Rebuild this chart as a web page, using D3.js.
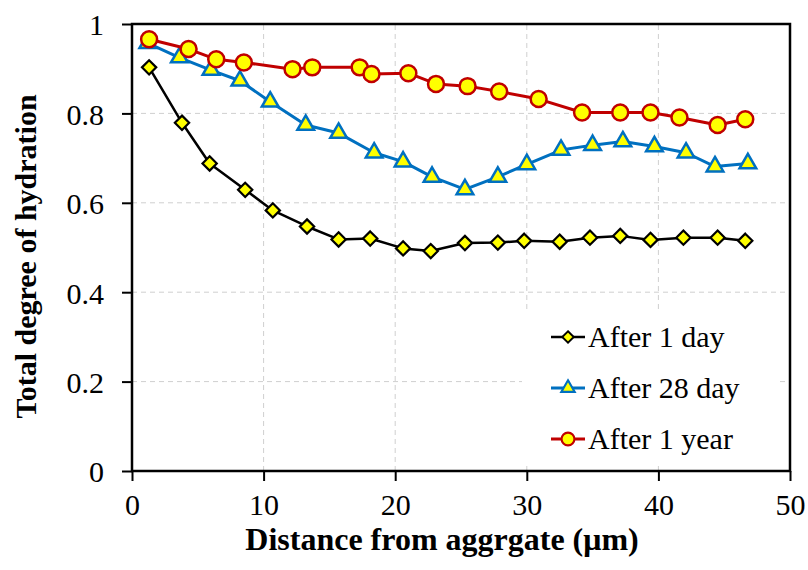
<!DOCTYPE html>
<html>
<head>
<meta charset="utf-8">
<script src="https://cdn.jsdelivr.net/npm/d3@7"></script>
<style>
  body { margin: 0; background: #fff; }
  svg { display: block; }
  svg text { font-family: "Liberation Serif", "Times New Roman", serif; }
</style>
</head>
<body>
<div id="wrapper"></div>
<script>
// values
const xDay1 = [1.3, 3.8, 5.9, 8.6, 10.7, 13.3, 15.7, 18.1, 20.6, 22.7, 25.3, 27.8, 29.8, 32.5, 34.8, 37.1, 39.4, 41.9, 44.5, 46.6];
const yDay1 = [0.903, 0.779, 0.688, 0.629, 0.583, 0.547, 0.518, 0.520, 0.498, 0.492, 0.510, 0.511, 0.515, 0.513, 0.522, 0.526, 0.517, 0.522, 0.522, 0.515];

const xDay28 = [1.2, 3.6, 6.0, 8.2, 10.5, 13.2, 15.7, 18.4, 20.6, 22.8, 25.3, 27.8, 30.0, 32.6, 35.0, 37.3, 39.7, 42.1, 44.3, 46.8];
const yDay28 = [0.957, 0.925, 0.897, 0.873, 0.826, 0.774, 0.756, 0.712, 0.692, 0.658, 0.630, 0.658, 0.686, 0.718, 0.729, 0.737, 0.726, 0.712, 0.681, 0.688];

const xYear1 = [1.3, 4.3, 6.4, 8.5, 12.2, 13.7, 17.3, 18.2, 21.0, 23.1, 25.5, 27.9, 30.9, 34.2, 37.1, 39.4, 41.6, 44.5, 46.6];
const yYear1 = [0.966, 0.944, 0.921, 0.914, 0.899, 0.903, 0.903, 0.888, 0.890, 0.866, 0.861, 0.849, 0.832, 0.802, 0.802, 0.802, 0.791, 0.774, 0.787];

const seriesNames = ["After 1 day", "After 28 day", "After 1 year"];
const xTicks = [0, 10, 20, 30, 40, 50];
const yTicks = [0, 0.2, 0.4, 0.6, 0.8, 1];
const xTitle = "Distance from aggrgate (μm)";
const yTitle = "Total degree of hydration";

const width = 808, height = 570;
const margin = {top: 24, right: 18, bottom: 99, left: 132};
const serif = "'Liberation Serif', 'Times New Roman', serif";

const x = d3.scaleLinear().domain([0, 50]).range([margin.left, width - margin.right]);
const y = d3.scaleLinear().domain([0, 1]).range([height - margin.bottom, margin.top]);

const svg = d3.select("#wrapper").append("svg")
   .attr("width", width)
   .attr("height", height)
   .attr("font-family", serif);

// dashed grid
const grid = svg.append("g")
   .attr("stroke", "#cfcfcf")
   .attr("stroke-width", 1)
   .attr("stroke-dasharray", "5,4");
grid.selectAll("line.v").data(xTicks.slice(1, -1)).join("line")
   .attr("class", "v")
   .attr("x1", d => x(d)).attr("x2", d => x(d))
   .attr("y1", y(0)).attr("y2", y(1));
grid.selectAll("line.h").data(yTicks.slice(1, -1)).join("line")
   .attr("class", "h")
   .attr("y1", d => y(d)).attr("y2", d => y(d))
   .attr("x1", x(0)).attr("x2", x(50));

// axes
const xAxis = svg.append("g")
   .attr("transform", `translate(0,${y(0)})`)
   .call(d3.axisBottom(x).tickValues(xTicks).tickSize(10).tickSizeOuter(0).tickPadding(13).tickFormat(d3.format("d")));
const yAxis = svg.append("g")
   .attr("transform", `translate(${x(0)},0)`)
   .call(d3.axisLeft(y).tickValues(yTicks).tickSize(10).tickSizeOuter(0).tickPadding(18).tickFormat(d3.format("~g")));

[xAxis, yAxis].forEach(a => {
   a.attr("font-family", serif).attr("font-size", 30);
   a.select(".domain").remove();
   a.selectAll("line").attr("stroke", "#000").attr("stroke-width", 2);
   a.selectAll("text").attr("fill", "#000");
});
yAxis.selectAll("text").attr("dy", "0.36em");

// plot frame
svg.append("rect")
   .attr("x", x(0)).attr("y", y(1))
   .attr("width", x(50) - x(0)).attr("height", y(0) - y(1))
   .attr("fill", "none")
   .attr("stroke", "#000")
   .attr("stroke-width", 2.5);

// axis titles
svg.append("text")
   .attr("x", (x(0) + x(50)) / 2 - 19)
   .attr("y", 550)
   .attr("text-anchor", "middle")
   .attr("font-size", 32)
   .attr("font-weight", "bold")
   .text(xTitle);

svg.append("text")
   .attr("transform", `translate(36,${(y(0) + y(1)) / 2 + 9}) rotate(-90)`)
   .attr("text-anchor", "middle")
   .attr("font-size", 30)
   .attr("font-weight", "bold")
   .text(yTitle);

// series
const series = [
   {name: seriesNames[0], xs: xDay1, ys: yDay1, color: "#000000", shape: d3.symbolDiamond2, size: 130, lw: 2.5, mw: 2.2},
   {name: seriesNames[1], xs: xDay28, ys: yDay28, color: "#0070c0", shape: d3.symbolTriangle, size: 120, lw: 3, mw: 2.5},
   {name: seriesNames[2], xs: xYear1, ys: yYear1, color: "#c00000", shape: d3.symbolCircle, size: 200, lw: 3, mw: 2.5}
];

// legend background (hides grid behind it)
svg.append("rect")
   .attr("x", 522).attr("y", 311)
   .attr("width", 254).attr("height", 152)
   .attr("fill", "#fff");

const line = d3.line().x(d => x(d[0])).y(d => y(d[1]));

series.forEach(s => {
   const pts = s.xs.map((v, i) => [v, s.ys[i]]);
   const g = svg.append("g");
   g.append("path")
      .datum(pts)
      .attr("d", line)
      .attr("fill", "none")
      .attr("stroke", s.color)
      .attr("stroke-width", s.lw)
      .attr("stroke-linejoin", "round");
   g.selectAll("path.mark").data(pts).join("path")
      .attr("class", "mark")
      .attr("transform", d => `translate(${x(d[0])},${y(d[1])})`)
      .attr("d", d3.symbol(s.shape, s.size))
      .attr("fill", "#ffff00")
      .attr("stroke", s.color)
      .attr("stroke-width", s.mw)
      .attr("stroke-linejoin", "miter");
});

// legend
const legend = svg.append("g").attr("transform", "translate(568,337)");
series.forEach((s, i) => {
   const row = legend.append("g").attr("transform", `translate(0,${i * 51})`);
   row.append("line")
      .attr("x1", -17).attr("x2", 17)
      .attr("stroke", s.color).attr("stroke-width", s.lw);
   row.append("path")
      .attr("d", d3.symbol(s.shape, s.size * 0.65))
      .attr("fill", "#ffff00")
      .attr("stroke", s.color)
      .attr("stroke-width", s.mw * 0.85);
   row.append("text")
      .attr("x", 20)
      .attr("dy", "0.34em")
      .attr("font-size", 30)
      .text(s.name);
});
</script>
</body>
</html>
